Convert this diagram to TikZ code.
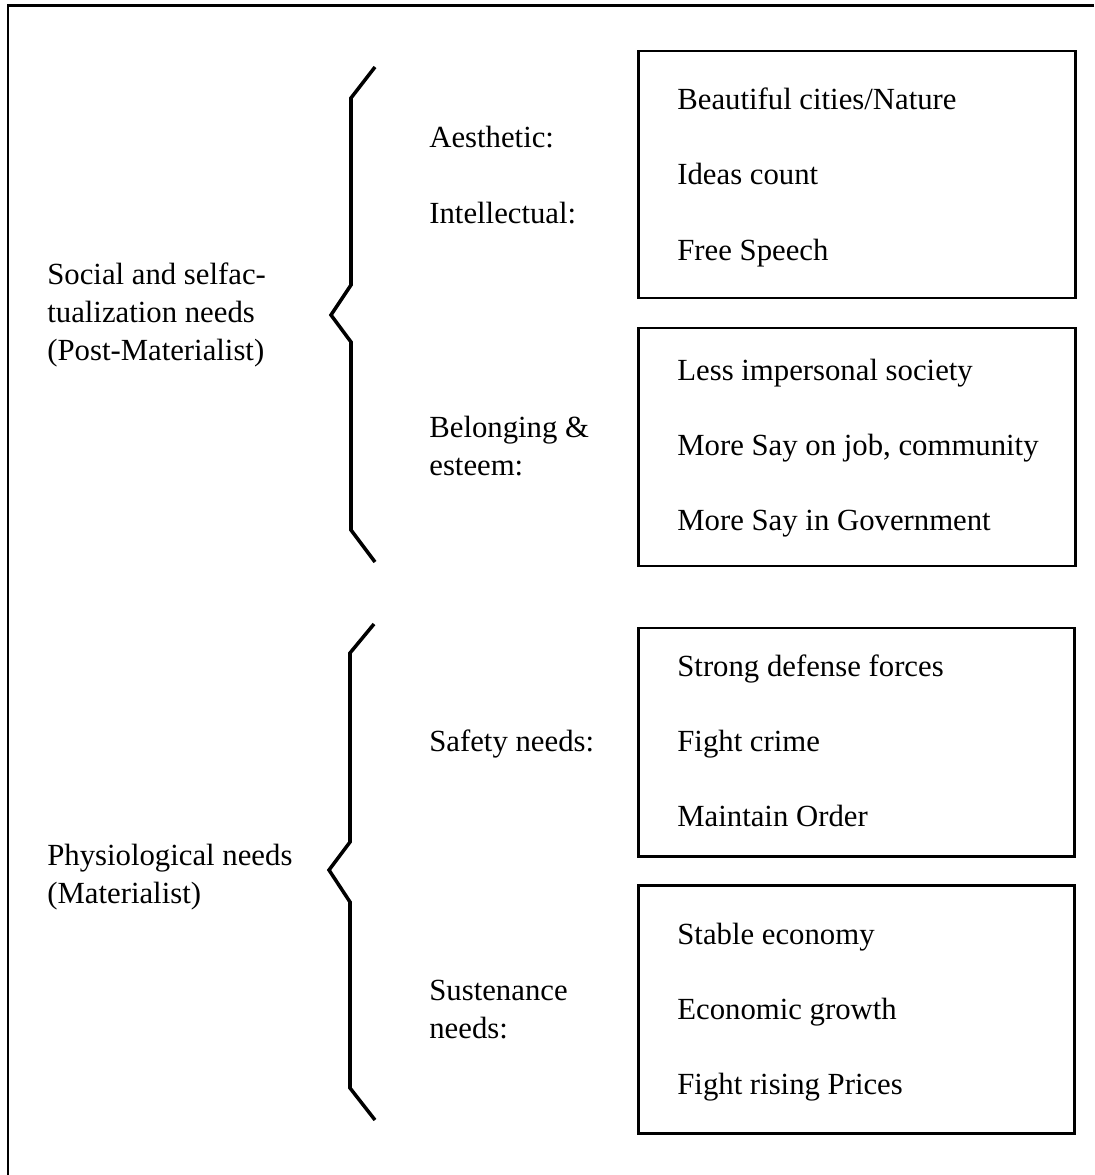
\documentclass[tikz,border=0pt]{standalone}
\usepackage{fontspec}
\setmainfont{Liberation Serif}
\usetikzlibrary{fit}

\tikzset{
  frame/.style={line width=1.7pt},
  listbox/.style={draw, line width=1.7pt, inner sep=0pt},
  zigbrace/.style={line width=2pt, line join=miter},
  grouptext/.style={anchor=base west, align=left, inner sep=0pt},
  needtext/.style={anchor=base west, align=left, inner sep=0pt},
  item/.style={anchor=base west, inner sep=0pt},
}

\begin{document}
\begin{tikzpicture}[x=0.02cm, y=-0.02cm, font=\fontsize{17.5}{21.5}\selectfont]
\useasboundingbox (0,0) rectangle (1094,1175);

% Outer frame (runs off the right and bottom)
\draw[frame] (1094,6) -- (8,6) -- (8,1175);

% Braces
\draw[zigbrace] (375,67) -- (351,98) -- (351,285) -- (331,315) -- (351,342) -- (351,530) -- (375,562);
\draw[zigbrace] (374,624) -- (350,653) -- (350,842) -- (329,870) -- (350,902) -- (350,1088) -- (375,1120);

% Groups of needs (base = last line)
\node[grouptext] (postmat) at (47,360) {Social and selfac-\\tualization needs\\(Post-Materialist)};
\node[grouptext] (mat) at (47,903) {Physiological needs\\(Materialist)};

% Kinds of needs
\node[needtext] (aes) at (429,148) {Aesthetic:};
\node[needtext] (intel) at (429,224) {Intellectual:};
\node[needtext] (belong) at (429,475) {Belonging \&\\esteem:};
\node[needtext] (safety) at (429,751) {Safety needs:};
\node[needtext] (susten) at (429,1038) {Sustenance\\needs:};

% Boxes
\node[listbox, fit={(638,51) (1075,298)}] (box1) {};
\node[listbox, fit={(638,328) (1075,566)}] (box2) {};
\node[listbox, fit={(638,628) (1074,856)}] (box3) {};
\node[listbox, fit={(638,885) (1074,1133)}] (box4) {};

% Goals in the boxes
\foreach \txt/\y [count=\i] in {{Beautiful cities/Nature}/110, {Ideas count}/185, {Free Speech}/261,
    {Less impersonal society}/380, {More Say on job, community}/455, {More Say in Government}/530,
    {Strong defense forces}/676, {Fight crime}/751, {Maintain Order}/826,
    {Stable economy}/944, {Economic growth}/1019, {Fight rising Prices}/1094}
  \node[item] (goal\i) at (677,\y) {\txt};

\end{tikzpicture}
\end{document}
